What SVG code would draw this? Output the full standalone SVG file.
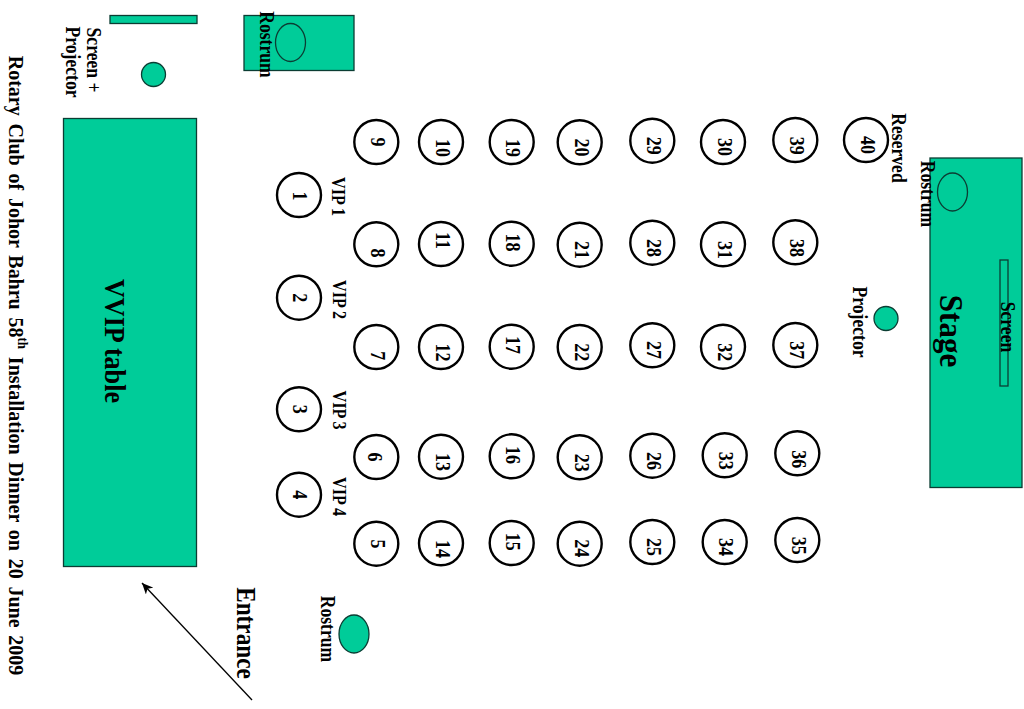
<svg xmlns="http://www.w3.org/2000/svg" width="1024" height="709" viewBox="0 0 1024 709">
<style>
text{font-family:"Liberation Serif","Times New Roman",serif;font-weight:700;fill:#000;text-anchor:middle;dominant-baseline:central}
.g{fill:#00cc99;stroke:#0b3d33;stroke-width:1.3}
.o{fill:none;stroke:#0b3d33;stroke-width:1.3}
.t{fill:#fff;stroke:#000;stroke-width:2.4}
.n{font-size:21px}
.l{font-size:19px}
.m{font-size:20.700px}
</style>
<defs><marker id="ah" markerWidth="12" markerHeight="10" refX="11" refY="5" orient="auto" markerUnits="userSpaceOnUse"><path d="M0 0L11 5L0 10L3 5Z" fill="#000"/></marker></defs>
<rect width="1024" height="709" fill="#fff"/>
<g id="connectors"><line x1="252" y1="700" x2="142" y2="583" stroke="#000" stroke-width="1.3" marker-end="url(#ah)"/></g>
<g id="title"><text transform="translate(16.500 365.500) rotate(90) scale(.93 1)" font-size="21.500" word-spacing="3">Rotary Club of Johor Bahru 58<tspan font-size="14" dy="-7">th</tspan><tspan dy="7"> Installation Dinner on 20 June 2009</tspan></text></g>
<g id="screen-projector-left"><rect class="g" x="110" y="15.500" width="87" height="8"/><circle class="g" cx="153.500" cy="74.500" r="12"/><text class="m" transform="translate(94.500 60) rotate(90) scale(.85 1)">Screen +</text><text class="m" transform="translate(73 62) rotate(90) scale(.85 1)">Projector</text></g>
<g id="vvip-table"><rect class="g" x="63.500" y="118.500" width="133" height="448"/><text transform="translate(115.500 341) rotate(90) scale(.87 1)" font-size="30">VVIP table</text></g>
<g id="rostrum-top"><rect class="g" x="244" y="15.500" width="110" height="55"/><ellipse class="o" cx="290.500" cy="42.500" rx="15" ry="19"/><text class="m" transform="translate(267 44.500) rotate(90) scale(.85 1)">Rostrum</text></g>
<g id="stage"><rect class="g" x="930" y="158" width="92" height="329.500"/><ellipse class="o" cx="952.500" cy="192" rx="15" ry="19"/><rect class="o" x="1000" y="260" width="8" height="126"/><text class="m" transform="translate(928 194) rotate(90) scale(.85 1)">Rostrum</text><text transform="translate(951 331) rotate(90) scale(.94 1)" font-size="33">Stage</text><text class="m" transform="translate(1008 327) rotate(90) scale(.85 1)">Screen</text></g>
<g id="projector-right"><circle class="g" cx="886" cy="318.500" r="12"/><text class="m" transform="translate(860 322) rotate(90) scale(.85 1)">Projector</text></g>
<g id="rostrum-bottom"><ellipse class="g" cx="354" cy="634" rx="15" ry="19"/><text class="m" transform="translate(328 629) rotate(90) scale(.85 1)">Rostrum</text></g>
<g id="entrance"><text transform="translate(246 633) rotate(90) scale(.86 1)" font-size="27">Entrance</text></g>
<g id="reserved"><text class="m" transform="translate(899 148) rotate(90) scale(.85 1)">Reserved</text></g>
<g id="vip-1"><circle class="t" cx="299" cy="195" r="22"/><text class="n" transform="translate(300 196) rotate(90) scale(.857 1)">1</text><text class="l" transform="translate(338 196.500) rotate(90) scale(.85 1)">VIP 1</text></g>
<g id="vip-2"><circle class="t" cx="299" cy="297.700" r="22"/><text class="n" transform="translate(300 297.700) rotate(90) scale(.857 1)">2</text><text class="l" transform="translate(339 299.500) rotate(90) scale(.85 1)">VIP 2</text></g>
<g id="vip-3"><circle class="t" cx="299" cy="409.300" r="22"/><text class="n" transform="translate(300 409.300) rotate(90) scale(.857 1)">3</text><text class="l" transform="translate(339.500 410) rotate(90) scale(.85 1)">VIP 3</text></g>
<g id="vip-4"><circle class="t" cx="299" cy="494.700" r="22"/><text class="n" transform="translate(300 494.700) rotate(90) scale(.857 1)">4</text><text class="l" transform="translate(339.500 496.500) rotate(90) scale(.85 1)">VIP 4</text></g>
<g id="t9"><circle class="t" cx="376.300" cy="142" r="22"/><text class="n" transform="translate(378 142) rotate(90) scale(.857 1)">9</text></g>
<g id="t10"><circle class="t" cx="441" cy="142" r="22"/><text class="n" transform="translate(442.500 148) rotate(90) scale(.857 1)">10</text></g>
<g id="t19"><circle class="t" cx="511.700" cy="142" r="22"/><text class="n" transform="translate(513 148) rotate(90) scale(.857 1)">19</text></g>
<g id="t20"><circle class="t" cx="579.700" cy="142.300" r="22"/><text class="n" transform="translate(581.500 147.500) rotate(90) scale(.857 1)">20</text></g>
<g id="t29"><circle class="t" cx="652.300" cy="140.700" r="22"/><text class="n" transform="translate(653.500 145.700) rotate(90) scale(.857 1)">29</text></g>
<g id="t30"><circle class="t" cx="723" cy="142" r="22"/><text class="n" transform="translate(724.500 147) rotate(90) scale(.857 1)">30</text></g>
<g id="t39"><circle class="t" cx="795.300" cy="140" r="22"/><text class="n" transform="translate(797 145.700) rotate(90) scale(.857 1)">39</text></g>
<g id="t40"><circle class="t" cx="866" cy="140" r="22"/><text class="n" transform="translate(867.700 145) rotate(90) scale(.857 1)">40</text></g>
<g id="t8"><circle class="t" cx="376.300" cy="244.300" r="22"/><text class="n" transform="translate(378 253) rotate(90) scale(.857 1)">8</text></g>
<g id="t11"><circle class="t" cx="441" cy="244" r="22"/><text class="n" transform="translate(442.500 240.500) rotate(90) scale(.857 1)">11</text></g>
<g id="t18"><circle class="t" cx="511.700" cy="243.700" r="22"/><text class="n" transform="translate(513 242.500) rotate(90) scale(.857 1)">18</text></g>
<g id="t21"><circle class="t" cx="579.700" cy="244.700" r="22"/><text class="n" transform="translate(581.500 250) rotate(90) scale(.857 1)">21</text></g>
<g id="t28"><circle class="t" cx="652.300" cy="242.700" r="22"/><text class="n" transform="translate(653.500 248) rotate(90) scale(.857 1)">28</text></g>
<g id="t31"><circle class="t" cx="723" cy="244.300" r="22"/><text class="n" transform="translate(724.500 250) rotate(90) scale(.857 1)">31</text></g>
<g id="t38"><circle class="t" cx="795.300" cy="242.300" r="22"/><text class="n" transform="translate(797 248) rotate(90) scale(.857 1)">38</text></g>
<g id="t7"><circle class="t" cx="376.300" cy="347" r="22"/><text class="n" transform="translate(378 355.700) rotate(90) scale(.857 1)">7</text></g>
<g id="t12"><circle class="t" cx="441" cy="347" r="22"/><text class="n" transform="translate(442.500 352.500) rotate(90) scale(.857 1)">12</text></g>
<g id="t17"><circle class="t" cx="511.700" cy="346.700" r="22"/><text class="n" transform="translate(513 345) rotate(90) scale(.857 1)">17</text></g>
<g id="t22"><circle class="t" cx="579.700" cy="347" r="22"/><text class="n" transform="translate(581.500 352.300) rotate(90) scale(.857 1)">22</text></g>
<g id="t27"><circle class="t" cx="652.300" cy="345.300" r="22"/><text class="n" transform="translate(653.500 350) rotate(90) scale(.857 1)">27</text></g>
<g id="t32"><circle class="t" cx="723" cy="346.700" r="22"/><text class="n" transform="translate(724.500 352.300) rotate(90) scale(.857 1)">32</text></g>
<g id="t37"><circle class="t" cx="795.300" cy="345" r="22"/><text class="n" transform="translate(797 350.300) rotate(90) scale(.857 1)">37</text></g>
<g id="t6"><circle class="t" cx="376.300" cy="457" r="22"/><text class="n" transform="translate(374.500 457) rotate(90) scale(.857 1)">6</text></g>
<g id="t13"><circle class="t" cx="441" cy="456.700" r="22"/><text class="n" transform="translate(442.500 462) rotate(90) scale(.857 1)">13</text></g>
<g id="t16"><circle class="t" cx="511.700" cy="456.300" r="22"/><text class="n" transform="translate(513 455) rotate(90) scale(.857 1)">16</text></g>
<g id="t23"><circle class="t" cx="579.700" cy="457.300" r="22"/><text class="n" transform="translate(581.500 462.700) rotate(90) scale(.857 1)">23</text></g>
<g id="t26"><circle class="t" cx="652.300" cy="455.700" r="22"/><text class="n" transform="translate(653.500 461) rotate(90) scale(.857 1)">26</text></g>
<g id="t33"><circle class="t" cx="724.700" cy="455.300" r="22"/><text class="n" transform="translate(726 460.700) rotate(90) scale(.857 1)">33</text></g>
<g id="t36"><circle class="t" cx="797.300" cy="453.300" r="22"/><text class="n" transform="translate(798.500 459.300) rotate(90) scale(.857 1)">36</text></g>
<g id="t5"><circle class="t" cx="376.300" cy="543.700" r="22"/><text class="n" transform="translate(378 544) rotate(90) scale(.857 1)">5</text></g>
<g id="t14"><circle class="t" cx="441" cy="543.300" r="22"/><text class="n" transform="translate(442.500 549) rotate(90) scale(.857 1)">14</text></g>
<g id="t15"><circle class="t" cx="511.700" cy="543" r="22"/><text class="n" transform="translate(513 541.700) rotate(90) scale(.857 1)">15</text></g>
<g id="t24"><circle class="t" cx="579.700" cy="543.700" r="22"/><text class="n" transform="translate(581.500 548.300) rotate(90) scale(.857 1)">24</text></g>
<g id="t25"><circle class="t" cx="652.300" cy="542" r="22"/><text class="n" transform="translate(653.500 547) rotate(90) scale(.857 1)">25</text></g>
<g id="t34"><circle class="t" cx="724.700" cy="542" r="22"/><text class="n" transform="translate(726 547) rotate(90) scale(.857 1)">34</text></g>
<g id="t35"><circle class="t" cx="797.300" cy="540" r="22"/><text class="n" transform="translate(798.500 545.700) rotate(90) scale(.857 1)">35</text></g>
</svg>
